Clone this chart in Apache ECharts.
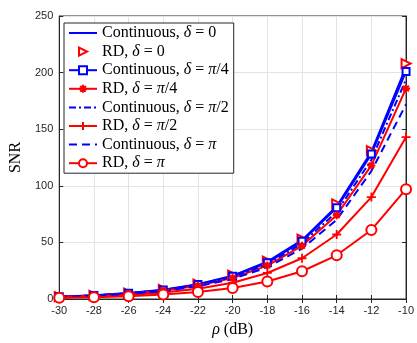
<!DOCTYPE html>
<html>
<head>
<meta charset="utf-8">
<script src="https://cdn.jsdelivr.net/npm/echarts@6/dist/echarts.min.js"></script>
<style>
  html, body { margin: 0; padding: 0; background: #fff; }
  #chart { width: 417px; height: 343px; }
</style>
</head>
<body>
<div id="chart"></div>
<script>
const rho = [-30, -28, -26, -24, -22, -20, -18, -16, -14, -12, -10];

const contD0 = [2.05, 3.3, 5.2, 8.2, 13, 20.6, 33, 52, 82, 130, 205];
const rdD0 = [2.1, 3.3, 5.3, 8.4, 13.2, 21, 33.5, 53, 84, 131, 208];
const contPi4 = [2.0, 3.2, 5.1, 8.0, 12.8, 20.2, 32, 51, 80.5, 128, 201];
const rdPi4 = [1.9, 3.0, 4.7, 7.4, 11.8, 18.6, 29.5, 47, 74, 118, 186];
const contPi2 = [1.95, 3.1, 4.9, 7.7, 12.3, 19.4, 30.8, 49, 77, 123, 194];
const rdPi2 = [1.4, 2.3, 3.6, 5.7, 9.1, 14.4, 23, 36, 57, 90, 143];
const contPi = [1.8, 2.8, 4.4, 7.0, 11.2, 17.7, 28, 44.5, 70, 113, 172];
const rdPi = [1.0, 1.5, 2.4, 3.9, 6.1, 9.7, 15.4, 24.5, 38.6, 61, 97];

const BLUE = '#0000ff';
const RED = '#ff0000';

const plusPath = 'path://M5,0L5,10M0,5L10,5';
const starPath = 'path://M5,0L5,10M0,5L10,5M1.5,1.5L8.5,8.5M8.5,1.5L1.5,8.5';

function pairs(ys) {
  return rho.map((x, i) => [x, ys[i]]);
}

const chart = echarts.init(document.getElementById('chart'));

const series = [
  {
    name: 'Continuous, δ = 0', data: pairs(contD0),
    color: BLUE, lineStyle: { width: 2, type: 'solid', color: BLUE }, symbol: 'none'
  },
  {
    name: 'RD, δ = 0', data: pairs(rdD0),
    color: RED, lineStyle: { width: 0, opacity: 0 },
    symbol: 'emptyTriangle', symbolSize: 9, symbolRotate: -90,
    itemStyle: { borderWidth: 1.6 }
  },
  {
    name: 'Continuous, δ = π/4', data: pairs(contPi4),
    color: BLUE, lineStyle: { width: 2, color: BLUE }, symbol: 'emptyRect', symbolSize: 7,
    itemStyle: { borderWidth: 1.6 }
  },
  {
    name: 'RD, δ = π/4', data: pairs(rdPi4),
    color: RED, lineStyle: { width: 2, color: RED }, symbol: starPath, symbolSize: 8,
    itemStyle: { color: 'none', borderColor: RED, borderWidth: 2 }
  },
  {
    name: 'Continuous, δ = π/2', data: pairs(contPi2),
    color: BLUE, lineStyle: { width: 2, type: [7, 3, 2, 3], color: BLUE }, symbol: 'none'
  },
  {
    name: 'RD, δ = π/2', data: pairs(rdPi2),
    color: RED, lineStyle: { width: 2, color: RED }, symbol: plusPath, symbolSize: 9,
    itemStyle: { color: 'none', borderColor: RED, borderWidth: 1.8 }
  },
  {
    name: 'Continuous, δ = π', data: pairs(contPi),
    color: BLUE, lineStyle: { width: 2, type: [8, 5], color: BLUE }, symbol: 'none'
  },
  {
    name: 'RD, δ = π', data: pairs(rdPi),
    color: RED, lineStyle: { width: 2, color: RED }, symbol: 'emptyCircle', symbolSize: 10,
    itemStyle: { borderWidth: 1.8 }
  }
].map((s) => ({
  type: 'line',
  showSymbol: s.symbol !== 'none',
  animation: false,
  z: 3,
  ...s
}));

function mathText(str) {
  return str.split(/([δπρ])/).filter((p) => p.length).map((p) =>
    /[δπρ]/.test(p) ? `{i|${p}}` : `{n|${p}}`
  ).join('');
}

const serif = 'Liberation Serif';
const richStyles = {
  n: { fontFamily: serif, fontSize: 16, lineHeight: 16, color: '#000' },
  i: { fontFamily: serif, fontSize: 16, lineHeight: 16, fontStyle: 'italic', color: '#000' }
};

// legend entries; lines without markers hide the default circle
const legendData = series.map((s) => (
  s.symbol === 'none'
    ? { name: s.name, itemStyle: { opacity: 0 } }
    : { name: s.name }
));

const tickLabel = { fontFamily: 'Liberation Sans', fontSize: 11, color: '#262626' };
const axisLine = { show: true, lineStyle: { color: '#262626', width: 1 } };
const innerTick = { inside: true, length: 4, lineStyle: { color: '#262626' } };

const option = {
  backgroundColor: '#fff',
  animation: false,
  grid: {
    left: 57, right: 3, top: 16, bottom: 36,
    show: true, borderColor: '#262626', borderWidth: 1, backgroundColor: 'transparent'
  },
  legend: {
    orient: 'vertical',
    left: 64, top: 23,
    backgroundColor: '#fff',
    borderColor: '#262626',
    borderWidth: 1,
    padding: [2, 5, 2, 4],
    itemWidth: 28,
    itemHeight: 10,
    itemGap: 2.6,
    data: legendData,
    formatter: (name) => mathText(name),
    textStyle: { rich: richStyles }
  },
  xAxis: [
    {
      type: 'value', min: -30, max: -10, interval: 2,
      name: mathText('ρ (dB)'), nameLocation: 'middle', nameGap: 23,
      nameTextStyle: { rich: richStyles },
      axisLine: axisLine,
      axisTick: innerTick,
      axisLabel: { ...tickLabel, margin: 6 },
      splitLine: { show: true, lineStyle: { color: '#e3e3e3', width: 1 } }
    },
    {
      type: 'value', position: 'top', min: -30, max: -10, interval: 2,
      axisLine: axisLine,
      axisTick: innerTick,
      axisLabel: { show: false }, splitLine: { show: false }
    }
  ],
  yAxis: [
    {
      type: 'value', min: 0, max: 250, interval: 50,
      name: 'SNR', nameLocation: 'middle', nameGap: 32,
      nameTextStyle: { fontFamily: serif, fontSize: 16, color: '#000' },
      axisLine: axisLine,
      axisTick: innerTick,
      axisLabel: { ...tickLabel, margin: 6 },
      splitLine: { show: true, lineStyle: { color: '#e3e3e3', width: 1 } }
    },
    {
      type: 'value', position: 'right', min: 0, max: 250, interval: 50,
      axisLine: axisLine,
      axisTick: innerTick,
      axisLabel: { show: false }, splitLine: { show: false }
    }
  ],
  series: series
};

chart.setOption(option);
</script>
</body>
</html>
